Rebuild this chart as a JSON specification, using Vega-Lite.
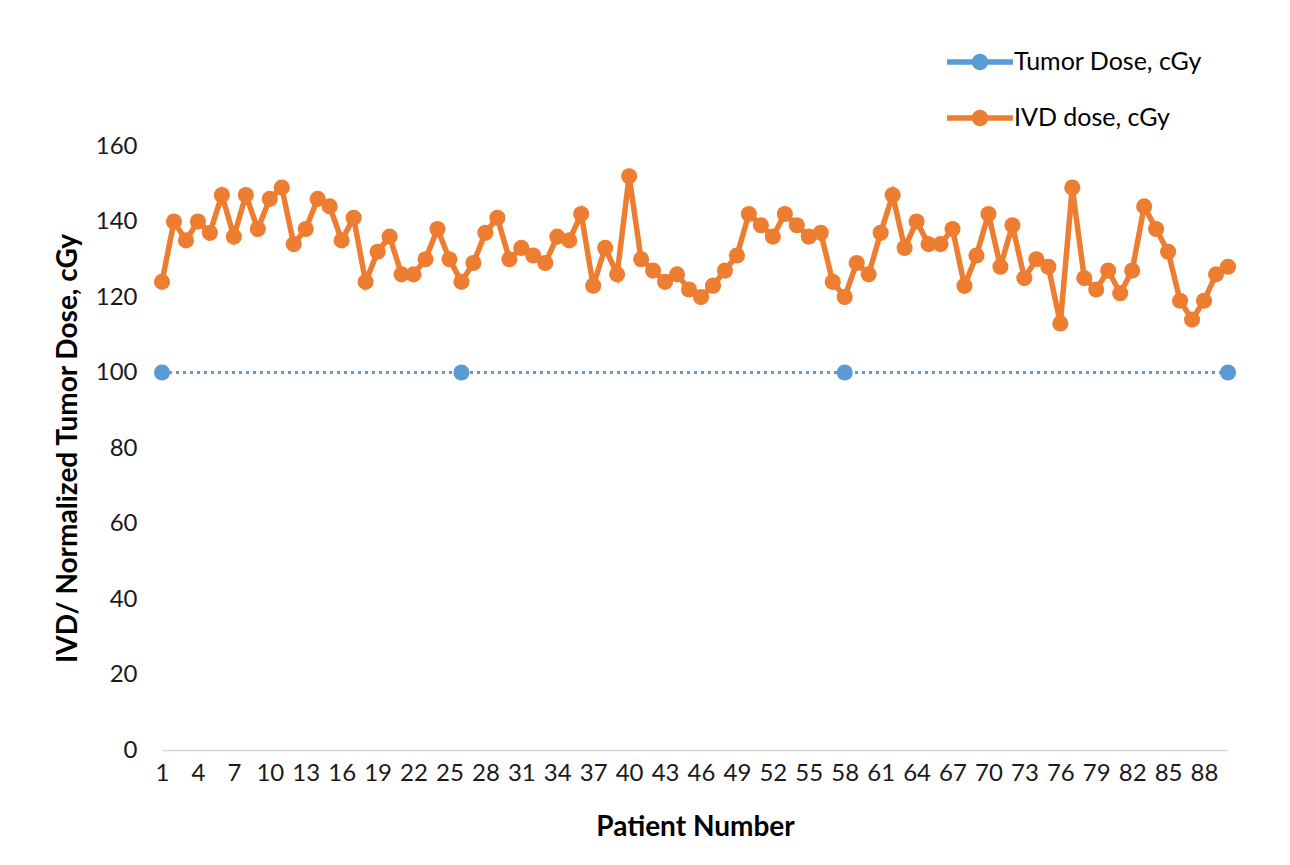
{
  "$schema": "https://vega.github.io/schema/vega-lite/v6.json",
  "width": 1066,
  "height": 604,
  "autosize": {"type": "none"},
  "padding": {"left": 162, "top": 146, "right": 62, "bottom": 115},
  "background": "white",
  "config": {
    "view": {"stroke": null},
    "font": "Lato",
    "axis": {"labelFont": "Lato", "titleFont": "Lato", "labelColor": "#1a1a1a", "titleColor": "#000000"},
    "legend": {"labelFont": "Lato"}
  },
  "data": {
    "values": [
      {"patient": 1, "series": "Tumor Dose, cGy", "dose": 100},
      {"patient": 26, "series": "Tumor Dose, cGy", "dose": 100},
      {"patient": 58, "series": "Tumor Dose, cGy", "dose": 100},
      {"patient": 90, "series": "Tumor Dose, cGy", "dose": 100},
      {"patient": 1, "series": "IVD dose, cGy", "dose": 124},
      {"patient": 2, "series": "IVD dose, cGy", "dose": 140},
      {"patient": 3, "series": "IVD dose, cGy", "dose": 135},
      {"patient": 4, "series": "IVD dose, cGy", "dose": 140},
      {"patient": 5, "series": "IVD dose, cGy", "dose": 137},
      {"patient": 6, "series": "IVD dose, cGy", "dose": 147},
      {"patient": 7, "series": "IVD dose, cGy", "dose": 136},
      {"patient": 8, "series": "IVD dose, cGy", "dose": 147},
      {"patient": 9, "series": "IVD dose, cGy", "dose": 138},
      {"patient": 10, "series": "IVD dose, cGy", "dose": 146},
      {"patient": 11, "series": "IVD dose, cGy", "dose": 149},
      {"patient": 12, "series": "IVD dose, cGy", "dose": 134},
      {"patient": 13, "series": "IVD dose, cGy", "dose": 138},
      {"patient": 14, "series": "IVD dose, cGy", "dose": 146},
      {"patient": 15, "series": "IVD dose, cGy", "dose": 144},
      {"patient": 16, "series": "IVD dose, cGy", "dose": 135},
      {"patient": 17, "series": "IVD dose, cGy", "dose": 141},
      {"patient": 18, "series": "IVD dose, cGy", "dose": 124},
      {"patient": 19, "series": "IVD dose, cGy", "dose": 132},
      {"patient": 20, "series": "IVD dose, cGy", "dose": 136},
      {"patient": 21, "series": "IVD dose, cGy", "dose": 126},
      {"patient": 22, "series": "IVD dose, cGy", "dose": 126},
      {"patient": 23, "series": "IVD dose, cGy", "dose": 130},
      {"patient": 24, "series": "IVD dose, cGy", "dose": 138},
      {"patient": 25, "series": "IVD dose, cGy", "dose": 130},
      {"patient": 26, "series": "IVD dose, cGy", "dose": 124},
      {"patient": 27, "series": "IVD dose, cGy", "dose": 129},
      {"patient": 28, "series": "IVD dose, cGy", "dose": 137},
      {"patient": 29, "series": "IVD dose, cGy", "dose": 141},
      {"patient": 30, "series": "IVD dose, cGy", "dose": 130},
      {"patient": 31, "series": "IVD dose, cGy", "dose": 133},
      {"patient": 32, "series": "IVD dose, cGy", "dose": 131},
      {"patient": 33, "series": "IVD dose, cGy", "dose": 129},
      {"patient": 34, "series": "IVD dose, cGy", "dose": 136},
      {"patient": 35, "series": "IVD dose, cGy", "dose": 135},
      {"patient": 36, "series": "IVD dose, cGy", "dose": 142},
      {"patient": 37, "series": "IVD dose, cGy", "dose": 123},
      {"patient": 38, "series": "IVD dose, cGy", "dose": 133},
      {"patient": 39, "series": "IVD dose, cGy", "dose": 126},
      {"patient": 40, "series": "IVD dose, cGy", "dose": 152},
      {"patient": 41, "series": "IVD dose, cGy", "dose": 130},
      {"patient": 42, "series": "IVD dose, cGy", "dose": 127},
      {"patient": 43, "series": "IVD dose, cGy", "dose": 124},
      {"patient": 44, "series": "IVD dose, cGy", "dose": 126},
      {"patient": 45, "series": "IVD dose, cGy", "dose": 122},
      {"patient": 46, "series": "IVD dose, cGy", "dose": 120},
      {"patient": 47, "series": "IVD dose, cGy", "dose": 123},
      {"patient": 48, "series": "IVD dose, cGy", "dose": 127},
      {"patient": 49, "series": "IVD dose, cGy", "dose": 131},
      {"patient": 50, "series": "IVD dose, cGy", "dose": 142},
      {"patient": 51, "series": "IVD dose, cGy", "dose": 139},
      {"patient": 52, "series": "IVD dose, cGy", "dose": 136},
      {"patient": 53, "series": "IVD dose, cGy", "dose": 142},
      {"patient": 54, "series": "IVD dose, cGy", "dose": 139},
      {"patient": 55, "series": "IVD dose, cGy", "dose": 136},
      {"patient": 56, "series": "IVD dose, cGy", "dose": 137},
      {"patient": 57, "series": "IVD dose, cGy", "dose": 124},
      {"patient": 58, "series": "IVD dose, cGy", "dose": 120},
      {"patient": 59, "series": "IVD dose, cGy", "dose": 129},
      {"patient": 60, "series": "IVD dose, cGy", "dose": 126},
      {"patient": 61, "series": "IVD dose, cGy", "dose": 137},
      {"patient": 62, "series": "IVD dose, cGy", "dose": 147},
      {"patient": 63, "series": "IVD dose, cGy", "dose": 133},
      {"patient": 64, "series": "IVD dose, cGy", "dose": 140},
      {"patient": 65, "series": "IVD dose, cGy", "dose": 134},
      {"patient": 66, "series": "IVD dose, cGy", "dose": 134},
      {"patient": 67, "series": "IVD dose, cGy", "dose": 138},
      {"patient": 68, "series": "IVD dose, cGy", "dose": 123},
      {"patient": 69, "series": "IVD dose, cGy", "dose": 131},
      {"patient": 70, "series": "IVD dose, cGy", "dose": 142},
      {"patient": 71, "series": "IVD dose, cGy", "dose": 128},
      {"patient": 72, "series": "IVD dose, cGy", "dose": 139},
      {"patient": 73, "series": "IVD dose, cGy", "dose": 125},
      {"patient": 74, "series": "IVD dose, cGy", "dose": 130},
      {"patient": 75, "series": "IVD dose, cGy", "dose": 128},
      {"patient": 76, "series": "IVD dose, cGy", "dose": 113},
      {"patient": 77, "series": "IVD dose, cGy", "dose": 149},
      {"patient": 78, "series": "IVD dose, cGy", "dose": 125},
      {"patient": 79, "series": "IVD dose, cGy", "dose": 122},
      {"patient": 80, "series": "IVD dose, cGy", "dose": 127},
      {"patient": 81, "series": "IVD dose, cGy", "dose": 121},
      {"patient": 82, "series": "IVD dose, cGy", "dose": 127},
      {"patient": 83, "series": "IVD dose, cGy", "dose": 144},
      {"patient": 84, "series": "IVD dose, cGy", "dose": 138},
      {"patient": 85, "series": "IVD dose, cGy", "dose": 132},
      {"patient": 86, "series": "IVD dose, cGy", "dose": 119},
      {"patient": 87, "series": "IVD dose, cGy", "dose": 114},
      {"patient": 88, "series": "IVD dose, cGy", "dose": 119},
      {"patient": 89, "series": "IVD dose, cGy", "dose": 126},
      {"patient": 90, "series": "IVD dose, cGy", "dose": 128}
    ]
  },
  "encoding": {
    "x": {
      "field": "patient",
      "type": "quantitative",
      "scale": {"domain": [1, 90], "nice": false, "zero": false},
      "axis": {
        "title": "Patient Number",
        "values": [1,4,7,10,13,16,19,22,25,28,31,34,37,40,43,46,49,52,55,58,61,64,67,70,73,76,79,82,85,88],
        "grid": false,
        "ticks": false,
        "domainColor": "#D9D9D9",
        "domainWidth": 1.5,
        "labelFontSize": 24,
        "labelPadding": 11,
        "labelFlush": false,
        "labelOverlap": false,
        "titleFontSize": 28,
        "titleFontWeight": "bold",
        "titlePadding": 28
      }
    },
    "y": {
      "field": "dose",
      "type": "quantitative",
      "scale": {"domain": [0, 160], "nice": false},
      "axis": {
        "title": "IVD/ Normalized Tumor Dose, cGy",
        "values": [0, 20, 40, 60, 80, 100, 120, 140, 160],
        "grid": false,
        "ticks": false,
        "domain": false,
        "labelFontSize": 24,
        "labelPadding": 25,
        "titleFontSize": 28,
        "titleFontWeight": "bold",
        "titlePadding": 13
      }
    }
  },
  "layer": [
    {
      "transform": [{"filter": "datum.series === 'Tumor Dose, cGy'"}],
      "mark": {"type": "line", "color": "#5B9BD5", "strokeWidth": 3, "strokeDash": [3, 4]}
    },
    {
      "transform": [{"filter": "datum.series === 'IVD dose, cGy'"}],
      "mark": {"type": "line", "color": "#ED7D31", "strokeWidth": 5.5}
    },
    {
      "mark": {"type": "point", "filled": true, "opacity": 1, "size": 260, "shape": "circle"},
      "encoding": {
        "color": {
          "field": "series",
          "type": "nominal",
          "scale": {"domain": ["Tumor Dose, cGy", "IVD dose, cGy"], "range": ["#5B9BD5", "#ED7D31"]},
          "legend": {
            "title": null,
            "orient": "none",
            "legendX": 785,
            "legendY": -117,
            "padding": 0,
            "symbolType": "M-1,-0.08L1,-0.08L1,0.08L-1,0.08Z M0.25,0A0.25,0.25,0,1,1,-0.25,0A0.25,0.25,0,1,1,0.25,0Z",
            "symbolSize": 4356,
            "symbolStrokeWidth": 0,
            "symbolOpacity": 1,
            "labelFontSize": 25,
            "labelColor": "#000000",
            "labelOffset": 1,
            "rowPadding": 10,
            "labelLimit": 400
          }
        }
      }
    }
  ]
}
